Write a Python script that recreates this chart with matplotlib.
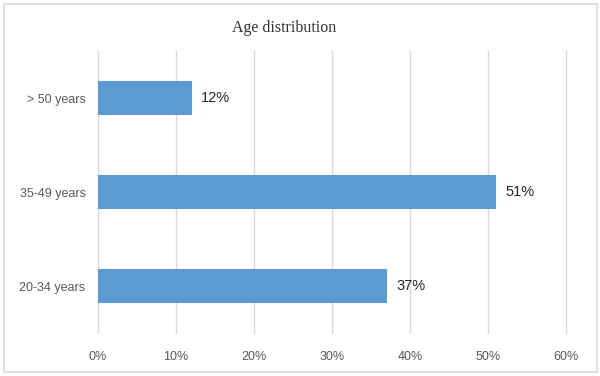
import matplotlib
matplotlib.use("Agg")
import matplotlib.pyplot as plt
from matplotlib.patches import Rectangle
from matplotlib.ticker import FuncFormatter

# ── Data ─────────────────────────────────────────────
categories = ["20-34 years", "35-49 years", "> 50 years"]
shares = [37, 51, 12]
x_ticks = [0, 10, 20, 30, 40, 50, 60]

BAR_COLOR = "#5b9bd5"
GRID_COLOR = "#d9d9d9"

fig = plt.figure(figsize=(6.0, 3.76), dpi=100)
fig.patch.set_facecolor("white")

# outer chart border
fig.patches.append(Rectangle((4 / 600, 4 / 376), 593 / 600, 368 / 376,
                             transform=fig.transFigure, fill=False,
                             edgecolor="#d9d9d9", linewidth=1.2))

ax = fig.add_axes([98 / 600, 1 - 333 / 376, 468 / 600, 282 / 376])
ax.barh(range(len(categories)), shares, height=0.36, color=BAR_COLOR, zorder=3)

ax.set_xlim(0, 60)
ax.set_ylim(-0.5, len(categories) - 0.5)
ax.set_xticks(x_ticks)
ax.xaxis.set_major_formatter(FuncFormatter(lambda v, p: f"{v:.0f}%"))
ax.set_yticks(range(len(categories)))
ax.set_yticklabels(categories)

ax.grid(axis="x", color=GRID_COLOR, linewidth=1.0, zorder=0)
for gl in ax.get_xgridlines():
    gl.set_clip_on(False)
for s in ax.spines.values():
    s.set_visible(False)
ax.tick_params(axis="both", length=0, colors="#595959", labelsize=9)
ax.tick_params(axis="x", pad=13)
ax.tick_params(axis="y", pad=9)
for lbl in ax.get_xticklabels() + ax.get_yticklabels():
    lbl.set_family("Liberation Sans")

for i, v in enumerate(shares):
    ax.text(v + 1.25, i, f"{v}%", va="center", ha="left",
            fontsize=10.5, color="#262626", family="Liberation Sans")

fig.text(284 / 600, 1 - 28 / 376, "Age distribution", ha="center", va="center",
         fontsize=11.5, family="Liberation Serif", color="#333333")

fig.savefig("out.png", dpi=100, facecolor="white")
